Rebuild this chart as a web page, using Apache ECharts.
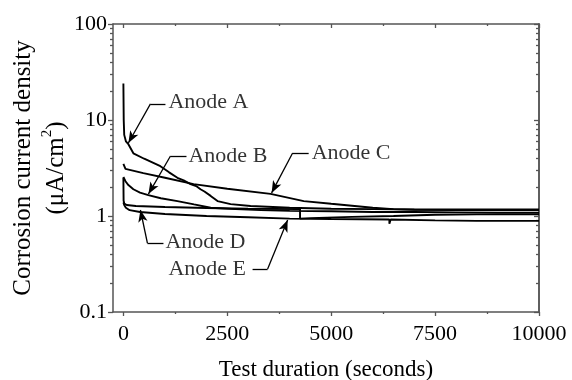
<!DOCTYPE html>
<html>
<head>
<meta charset="utf-8">
<script src="https://cdn.jsdelivr.net/npm/echarts@6/dist/echarts.min.js"></script>
<style>html,body{margin:0;padding:0;background:#fff}#c{width:572px;height:380px}</style>
</head>
<body>
<div id="c"></div>
<script>
// ---- data (time in seconds, current density in µA/cm²) ----
const anodeA = [[0,24],[8,10],[20,7],[60,6.0],[120,5.6],[240,4.5],[500,3.95],[890,3.3],[1100,2.85],[1300,2.5],[1450,2.35],[1615,2.15],[1750,2.05],[1855,1.9],[1950,1.8],[2100,1.62],[2265,1.43],[2580,1.33],[3060,1.27],[4000,1.22],[5000,1.19],[6000,1.18],[7000,1.17],[8000,1.17],[9000,1.17],[10000,1.17]];
const anodeB = [[0,2.55],[50,2.3],[120,2.1],[240,1.9],[400,1.75],[600,1.65],[900,1.53],[1300,1.43],[1700,1.32],[2100,1.22],[2700,1.18],[3300,1.15],[4000,1.13],[5000,1.12],[6000,1.1],[7000,1.1],[8000,1.09],[9000,1.08],[10000,1.08]];
const anodeC = [[0,3.5],[50,3.1],[480,2.8],[1000,2.5],[1690,2.15],[2500,1.92],[3540,1.7],[4340,1.43],[5000,1.34],[5500,1.28],[6000,1.22],[6500,1.18],[7000,1.16],[8000,1.15],[9000,1.15],[10000,1.15]];
const anodeD = [[0,2.5],[5,1.45],[20,1.35],[80,1.3],[300,1.27],[1000,1.24],[2000,1.21],[3000,1.19],[4250,1.18],[4250,0.94],[4500,0.95],[5500,0.98],[6500,1.0],[7500,1.03],[8500,1.04],[10000,1.04]];
const anodeE = [[0,1.38],[20,1.3],[60,1.22],[150,1.15],[400,1.1],[1000,1.05],[2000,1.0],[3000,0.97],[4000,0.94],[5000,0.93],[6400,0.92],[6400,0.83],[6430,0.92],[7500,0.9],[8500,0.89],[10000,0.89]];
const seriesNames = ['Anode A','Anode B','Anode C','Anode D','Anode E'];
const xMajorTicks = [0,2500,5000,7500,10000];
const xMinorTicks = [1250,3750,6250,8750];
const yMajorTicks = [0.1,1,10,100];
const yMinorTicks = [0.2,0.3,0.4,0.5,0.6,0.7,0.8,0.9,2,3,4,5,6,7,8,9,20,30,40,50,60,70,80,90];
// annotation anchors (data coordinates): label start, leader start, knee, arrow tip
const labelAnchors = [[1084,15.4],[1566,4.22],[4530,4.53],[1012,0.536],[1084,0.28]];
const leaderStarts = [[1012,14.7],[1518,4.22],[4458,4.53],[964,0.523],[3108,0.28]];
const leaderKnees  = [[651,14.7],[1133,4.22],[4072,4.53],[578,0.523],[3470,0.28]];
const leaderTips   = [[120,5.76],[602,1.69],[3566,1.74],[410,1.155],[3952,0.908]];

const FONT = "'Liberation Serif', 'Times New Roman', serif";
const INK = '#000';
const AX = '#555';

const chart = echarts.init(document.getElementById('c'), null, {renderer:'canvas'});

function xAx(pos, ticks, len, inside, labels, line){
  return {
    type:'value', position:pos, min:-250, max:10000,
    axisLine:{show:line, onZero:false, lineStyle:{color:AX,width:1.5}},
    axisTick:{show:true, inside:inside, length:len, customValues:ticks, lineStyle:{color:AX,width:1.3}},
    axisLabel:labels ? {show:true, customValues:ticks, margin:11, fontFamily:FONT, fontSize:22, color:INK,
      formatter:v=>String(v)} : {show:false},
    splitLine:{show:false}
  };
}
function yAx(pos, ticks, len, inside, labels, line){
  return {
    type:'log', logBase:10, position:pos, min:0.1, max:100,
    axisLine:{show:line, onZero:false, lineStyle:{color:AX,width:1.5}},
    axisTick:{show:true, inside:inside, length:len, customValues:ticks, lineStyle:{color:AX,width:1.3}},
    axisLabel:labels ? {show:true, customValues:ticks, margin:6, fontFamily:FONT, fontSize:22, color:INK,
      formatter:v=>String(v)} : {show:false},
    splitLine:{show:false}, minorTick:{show:false}
  };
}

const xAxes = [
  Object.assign(xAx('bottom', xMajorTicks, 4, false, true, true), {
    name:'Test duration (seconds)', nameLocation:'middle', nameGap:46, nameMoveOverlap:false,
    nameTextStyle:{fontFamily:FONT, fontSize:23, color:INK}
  }),
  xAx('bottom', xMinorTicks, 2, false, false, false),
  xAx('top', xMajorTicks, 4, true, false, true),
  xAx('top', xMinorTicks, 2, true, false, false)
];
const yAxes = [
  Object.assign(yAx('left', yMajorTicks, 5, false, true, true), {
    name:'Corrosion current density\n(\u03bcA/cm{sup|2})', nameLocation:'middle', nameGap:40, nameRotate:90,
    nameMoveOverlap:false,
    nameTextStyle:{fontFamily:FONT, fontSize:25, color:INK, lineHeight:33, align:'center',
      rich:{sup:{fontFamily:FONT, fontSize:15, color:INK, verticalAlign:'top', lineHeight:33, padding:[0,0,10,0]}}}
  }),
  yAx('left', yMinorTicks, 3, false, false, false),
  yAx('right', yMajorTicks, 5, true, false, true),
  yAx('right', yMinorTicks, 3, true, false, true)
];

const curves = [anodeA, anodeB, anodeC, anodeD, anodeE];
const series = curves.map((d,i)=>({
  name: seriesNames[i], type:'line', data:d, xAxisIndex:0, yAxisIndex:0,
  showSymbol:false, symbol:'none', silent:true, animation:false,
  lineStyle:{color:INK, width:1.9}
}));

const leaderData = [];
for (let i=0;i<seriesNames.length;i++){
  leaderData.push([{coord:leaderStarts[i], symbol:'none'},{coord:leaderKnees[i], symbol:'none'}]);
  leaderData.push([{coord:leaderKnees[i], symbol:'none'},{coord:leaderTips[i], symbol:'arrow', symbolSize:[7,12]}]);
}

series.push({
  name:'annotations', type:'scatter', xAxisIndex:0, yAxisIndex:0, silent:true, animation:false,
  symbolSize:0,
  data: labelAnchors.map((p,i)=>({value:[p[0],p[1]], name:seriesNames[i]})),
  label:{show:true, position:'right', distance:0, formatter:p=>p.name,
    fontFamily:FONT, fontSize:22, color:INK},
  markLine:{
    silent:true, animation:false, symbol:['none','arrow'],
    label:{show:false}, emphasis:{disabled:true},
    lineStyle:{type:'solid', color:INK, width:1.3},
    data: leaderData
  }
});

chart.setOption({
  animation:false,
  backgroundColor:'#fff',
  grid:{left:113, right:33, top:24, bottom:68, containLabel:false, outerBoundsMode:'none'},
  xAxis:xAxes,
  yAxis:yAxes,
  series:series
});
</script>
</body>
</html>
